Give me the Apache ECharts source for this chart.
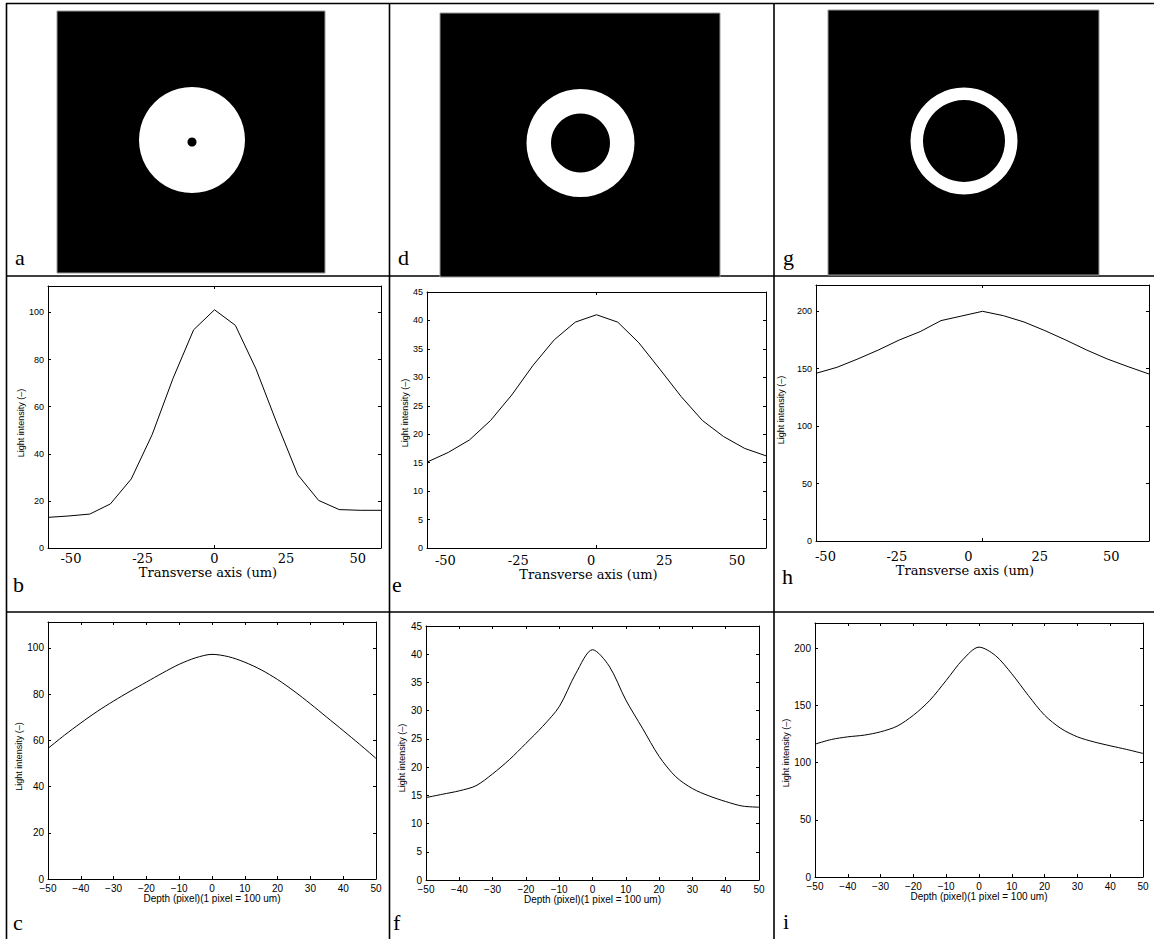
<!DOCTYPE html>
<html><head><meta charset="utf-8">
<script src="https://cdn.jsdelivr.net/npm/echarts@6/dist/echarts.min.js"></script>
<style>html,body{margin:0;padding:0;background:#fff}#chart{width:1154px;height:939px}</style>
</head><body><div id="chart"></div>
<script>
// ---- data ----
const transverseX = [-58.2,-50.9,-43.6,-36.4,-29.1,-21.8,-14.5,-7.3,0,7.3,14.5,21.8,29.1,36.4,43.6,50.9,58.2];
const bValues = [13.0,13.6,14.4,18.7,29.3,48.1,72.0,92.6,101.1,94.5,76.0,53.0,31.1,20.2,16.3,16.0,16.0];
const eValues = [15.1,16.8,19.0,22.4,26.9,32.1,36.6,39.7,41.0,39.7,36.1,31.4,26.6,22.4,19.6,17.5,16.2];
const hValues = [146.0,151.2,158.5,166.3,175.0,182.3,191.9,195.9,200.0,196.2,190.7,183.2,175.0,166.3,158.5,151.8,145.4];
const depthX = [-50,-45,-40,-35,-30,-25,-20,-15,-10,-5,0,5,10,15,20,25,30,35,40,45,50];
const cValues = [56.5,62.2,67.5,72.5,77.0,81.2,85.2,89.2,92.9,95.7,97.2,96.2,93.8,90.5,86.3,81.3,75.8,70.0,64.2,58.3,52.2];
const fValues = [14.6,15.2,15.8,16.7,18.8,21.3,24.2,27.2,30.7,36.6,40.8,37.9,31.9,26.9,21.9,18.3,16.2,14.9,13.9,13.1,12.9];
const iValues = [116.1,120.2,122.5,124.0,126.9,131.8,141.4,154.4,171.8,189.8,200.9,193.6,177.6,158.8,141.4,129.8,122.5,118.1,114.7,111.5,108.0];
const transverseTickLabels = [-50,-25,0,25,50];
const transverseCenterTick = [0];
const yAxisName = 'Light intensity (–)';
const transverseName = 'Transverse axis (um)';
const depthName = 'Depth (pixel)(1 pixel = 100 um)';
const panelLetters = ['a','b','c','d','e','f','g','h','i'];

// ---- layout ----
const SANS = 'Liberation Sans, Arial, sans-serif';
const SERIF = 'Liberation Serif, Times New Roman, serif';
const SERIF2 = 'DejaVu Serif, serif';
const panels = [
  {kind:'t', x:transverseX, y:bValues, grid:{left:48,top:286,width:333,height:262}, ymax:111.2, yint:20, labMin:-58.0, labMax:58.1, labMargin:4, nameGap:18, namePad:13, yNameGap:23, yPad:[0,12,0,0]},
  {kind:'t', x:transverseX, y:eValues, grid:{left:427,top:292,width:339,height:256}, ymax:45, yint:5, labMin:-56.3, labMax:59.9, labMargin:6, nameGap:17, namePad:16, yNameGap:17, yPad:[0,0,0,14]},
  {kind:'t', x:transverseX, y:hValues, grid:{left:816,top:285,width:333,height:256}, ymax:222.9, yint:50, labMin:-53.3, labMax:63.2, labMargin:9, nameGap:17, namePad:35, yNameGap:31, yPad:[0,0,0,6]},
  {kind:'d', x:depthX, y:cValues, grid:{left:48,top:622,width:328,height:257}, ymax:111.2, yint:20, yNameGap:23, yPad:[0,12,0,0]},
  {kind:'d', x:depthX, y:fValues, grid:{left:426,top:626,width:333,height:254}, ymax:45, yint:5, yNameGap:17, yPad:[0,10,0,0]},
  {kind:'d', x:depthX, y:iValues, grid:{left:815,top:623,width:328,height:254}, ymax:222, yint:50, yNameGap:22, yPad:[0,6,0,0]}
];
const pictures = [
  {x:57,y:11,w:268,h:262,cx:192,cy:140,r:53,r0:0,dot:{cx:192,cy:142,r:4.5}},
  {x:440,y:13,w:280,h:264,cx:580.5,cy:143,r:54,r0:29.5},
  {x:828,y:10,w:271,h:265,cx:964,cy:141,r:53.5,r0:41}
];
const letterPos = {a:[15,263],d:[398,263],g:[783,263],b:[13,590],e:[392,590],h:[782,582],c:[13,928],f:[393,928],i:[783,927]};

const lineSty = {color:'#000', width:1};
const xAxes=[], yAxes=[], series=[], grids=[];
panels.forEach((p,gi)=>{
  grids.push(Object.assign({containLabel:false}, p.grid));
  let dataX;
  if (p.kind==='t') {
    dataX = xAxes.length;
    const base = {gridIndex:gi,type:'value',min:p.x[0],max:p.x[p.x.length-1],
      axisLine:{show:true,onZero:false,lineStyle:lineSty},
      axisTick:{show:true,inside:true,length:3,customValues:transverseCenterTick,lineStyle:lineSty},
      axisLabel:{show:false},splitLine:{show:false}};
    xAxes.push(Object.assign({position:'bottom'},base));
    xAxes.push(Object.assign({position:'top'},base));
    xAxes.push({gridIndex:gi,type:'value',min:p.labMin,max:p.labMax,position:'bottom',
      axisLine:{show:false,onZero:false},axisTick:{show:false},splitLine:{show:false},
      axisLabel:{customValues:transverseTickLabels,fontFamily:SERIF2,fontSize:13,color:'#000',margin:p.labMargin},
      name:transverseName,nameLocation:'middle',nameGap:p.nameGap,
      nameTextStyle:{fontFamily:SERIF2,fontSize:13,color:'#000',padding:[0,p.namePad,0,0]}});
  } else {
    dataX = xAxes.length;
    const base = {gridIndex:gi,type:'value',min:-50,max:50,interval:10,
      axisLine:{show:true,onZero:false,lineStyle:lineSty},
      axisTick:{show:true,inside:true,length:3,lineStyle:lineSty},
      splitLine:{show:false}};
    xAxes.push(Object.assign({position:'bottom',
      axisLabel:{fontFamily:SANS,fontSize:10,color:'#000',margin:4,formatter:v=>String(v).replace('-','\u2212')},
      name:depthName,nameLocation:'middle',nameGap:13,
      nameTextStyle:{fontFamily:SANS,fontSize:10,color:'#000'}},base));
    xAxes.push(Object.assign({position:'top',axisLabel:{show:false}},base));
  }
  const leftY = yAxes.length;
  const ybase = {gridIndex:gi,type:'value',min:0,max:p.ymax,interval:p.yint,
    axisLine:{show:true,onZero:false,lineStyle:lineSty},
    axisTick:{show:true,inside:true,length:3,lineStyle:lineSty},
    splitLine:{show:false}};
  yAxes.push(Object.assign({position:'left',
    axisLabel:{fontFamily:SANS,fontSize:p.kind==='t'?9:10,color:'#000',margin:4,showMaxLabel:p.ymax===45},
    name:yAxisName,nameLocation:'middle',nameGap:p.yNameGap,
    nameTextStyle:{fontFamily:SANS,fontSize:9,color:'#000',padding:p.yPad}},ybase));
  yAxes.push(Object.assign({position:'right',axisLabel:{show:false}},ybase));
  series.push({type:'line',xAxisIndex:dataX,yAxisIndex:leftY,
    data:p.x.map((v,i)=>[v,p.y[i]]),showSymbol:false,symbol:'none',
    smooth:p.kind==='d'?0.3:false,lineStyle:{color:'#000',width:1},silent:true,animation:false});
});

// ---- graphics: table, pictures, letters ----
const graphic = [];
const border = {stroke:'#000',lineWidth:1.6};
[[6,3.5,1154,3.5],[6,276,1154,276],[6,612,1154,612],[6.5,3,6.5,939],[389.5,3,389.5,939],[774,3,774,939]]
  .forEach(s=>graphic.push({type:'line',shape:{x1:s[0],y1:s[1],x2:s[2],y2:s[3]},style:border,silent:true}));
pictures.forEach(pc=>{
  graphic.push({type:'rect',shape:{x:pc.x,y:pc.y,width:pc.w,height:pc.h},style:{fill:'#000',stroke:'#9a9a9a',lineWidth:1},silent:true});
  if (pc.r0>0) graphic.push({type:'ring',shape:{cx:pc.cx,cy:pc.cy,r:pc.r,r0:pc.r0},style:{fill:'#fff'},silent:true});
  else graphic.push({type:'circle',shape:{cx:pc.cx,cy:pc.cy,r:pc.r},style:{fill:'#fff'},silent:true});
  if (pc.dot) graphic.push({type:'circle',shape:pc.dot,style:{fill:'#000'},silent:true});
});
panelLetters.forEach(l=>{
  const pos = letterPos[l];
  graphic.push({type:'text',x:pos[0],y:pos[1]+5,style:{text:l,font:'22px '+SERIF,fill:'#000',verticalAlign:'bottom',align:'left'},silent:true});
});

const chart = echarts.init(document.getElementById('chart'),null,{renderer:'svg'});
chart.setOption({backgroundColor:'#fff',animation:false,grid:grids,xAxis:xAxes,yAxis:yAxes,series:series,graphic:graphic});
</script></body></html>
